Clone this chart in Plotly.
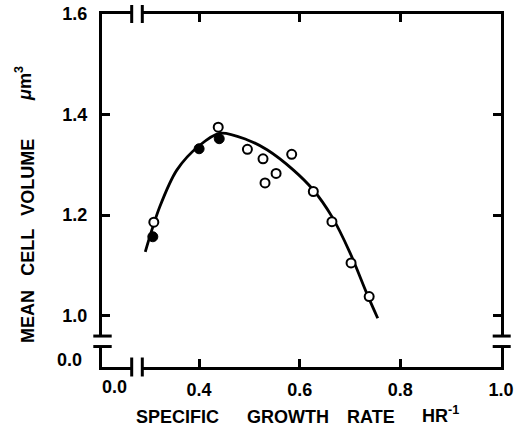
import plotly.graph_objects as go

# ---- data ----
open_x = [0.310, 0.438, 0.496, 0.527, 0.531, 0.553, 0.584, 0.627, 0.664, 0.702, 0.738]
open_y = [1.186, 1.375, 1.331, 1.312, 1.264, 1.283, 1.321, 1.247, 1.187, 1.105, 1.038]
filled_x = [0.308, 0.400, 0.440]
filled_y = [1.157, 1.332, 1.352]
curve_x = [0.293, 0.322, 0.356, 0.400, 0.442, 0.495, 0.535, 0.587, 0.627, 0.664, 0.700, 0.733, 0.755]
curve_y = [1.127, 1.217, 1.290, 1.338, 1.363, 1.350, 1.330, 1.290, 1.250, 1.197, 1.125, 1.045, 0.995]
x_ticks = [0.4, 0.6, 0.8, 1.0]
x_ticklabels = ["0.4", "0.6", "0.8", "1.0"]
y_ticks = [1.0, 1.2, 1.4, 1.6]
y_ticklabels = ["1.0", "1.2", "1.4", "1.6"]
x_range = [0.207, 1.0]
y_range = [0.898, 1.6]
x_title_words = ["SPECIFIC", "GROWTH", "RATE", "HR<sup>-1</sup>"]
y_title_words = ["MEAN", "CELL", "VOLUME", "<i>μ</i>m<sup>3</sup>"]

FONT = "Liberation Sans"
BLACK = "black"
FIG_W, FIG_H = 527, 431

fig = go.Figure()
fig.add_trace(go.Scatter(x=curve_x, y=curve_y, mode="lines",
                         line=dict(color=BLACK, width=2.8, shape="spline", smoothing=0.9),
                         hoverinfo="skip", showlegend=False))
fig.add_trace(go.Scatter(x=open_x, y=open_y, mode="markers",
                         marker=dict(symbol="circle", size=9, color="white",
                                     line=dict(color=BLACK, width=2)),
                         showlegend=False))
fig.add_trace(go.Scatter(x=filled_x, y=filled_y, mode="markers",
                         marker=dict(symbol="circle", size=10, color=BLACK,
                                     line=dict(color=BLACK, width=1)),
                         showlegend=False))

tickfont = dict(family=FONT, size=18, color=BLACK, weight="bold")
titlefont = dict(family=FONT, size=18, color=BLACK, weight="bold")

fig.update_xaxes(range=x_range, tickvals=x_ticks, ticktext=x_ticklabels,
                 ticks="inside", ticklen=8, tickwidth=2.5, tickcolor=BLACK,
                 showline=True, linewidth=3, linecolor=BLACK, mirror="ticks",
                 showgrid=False, zeroline=False, tickfont=tickfont,
                 ticklabelstandoff=4, automargin=False)
fig.update_yaxes(range=y_range, tickvals=y_ticks, ticktext=y_ticklabels,
                 ticks="inside", ticklen=8, tickwidth=2.5, tickcolor=BLACK,
                 showline=True, linewidth=3, linecolor=BLACK, mirror="ticks",
                 showgrid=False, zeroline=False, tickfont=tickfont,
                 ticklabelstandoff=8, automargin=False)

# ---- geometry in reference pixels ----
L, R, T, B = 102, 501, 14, 367.5
W, H = R - L, B - T
def px(x):
    return (x - L) / W
def py(y):
    return (B - y) / H

shapes = []
bx1, bx2 = px(131.7), px(142.3)
by1, by2 = py(336.5), py(347)
for yy in (0, 1):
    shapes.append(dict(type="line", xref="paper", yref="paper", x0=bx1, x1=bx2,
                       y0=yy, y1=yy, line=dict(color="white", width=6), layer="above"))
for xx in (0, 1):
    shapes.append(dict(type="line", xref="paper", yref="paper", x0=xx, x1=xx,
                       y0=by1, y1=by2, line=dict(color="white", width=6), layer="above"))
for bx in (bx1, bx2):
    shapes.append(dict(type="line", xref="paper", yref="paper", x0=bx, x1=bx,
                       y0=py(5), y1=py(23), line=dict(color=BLACK, width=3), layer="above"))
    shapes.append(dict(type="line", xref="paper", yref="paper", x0=bx, x1=bx,
                       y0=py(358), y1=py(377), line=dict(color=BLACK, width=3), layer="above"))
for by in (by1, by2):
    shapes.append(dict(type="line", xref="paper", yref="paper", x0=px(93.3), x1=px(111.7),
                       y0=by, y1=by, line=dict(color=BLACK, width=3), layer="above"))
    shapes.append(dict(type="line", xref="paper", yref="paper", x0=px(492.7), x1=px(510.7),
                       y0=by, y1=by, line=dict(color=BLACK, width=3), layer="above"))

annotations = [
    dict(text="0.0", xref="paper", yref="paper", x=px(114), y=py(388),
         xanchor="center", yanchor="middle", showarrow=False, font=tickfont),
    dict(text="0.0", xref="paper", yref="paper", x=px(84), y=py(360),
         xanchor="right", yanchor="middle", showarrow=False, font=tickfont),
]
for word, cx, cy in zip(x_title_words, [177.5, 288, 371, 440], [418, 418, 418, 415]):
    annotations.append(dict(text=word, xref="paper", yref="paper", x=px(cx), y=py(cy),
                            xanchor="center", yanchor="middle", showarrow=False,
                            font=titlefont))
for word, cy, cx in zip(y_title_words, [317.5, 253, 178, 84], [28, 28, 28, 24]):
    annotations.append(dict(text=word, xref="paper", yref="paper", x=px(cx), y=py(cy),
                            textangle=-90, xanchor="center", yanchor="middle",
                            showarrow=False, font=titlefont))

fig.update_layout(width=FIG_W, height=FIG_H,
                  margin=dict(l=L, r=FIG_W - R, t=T, b=FIG_H - B, pad=0),
                  paper_bgcolor="white", plot_bgcolor="white",
                  shapes=shapes, annotations=annotations, showlegend=False)

# remove the default 8px page margin so the figure fills the window
fig.write_html("out.html", config={"displayModeBar": False},
               post_script="document.body.style.margin='0px';document.body.style.overflow='hidden';")
